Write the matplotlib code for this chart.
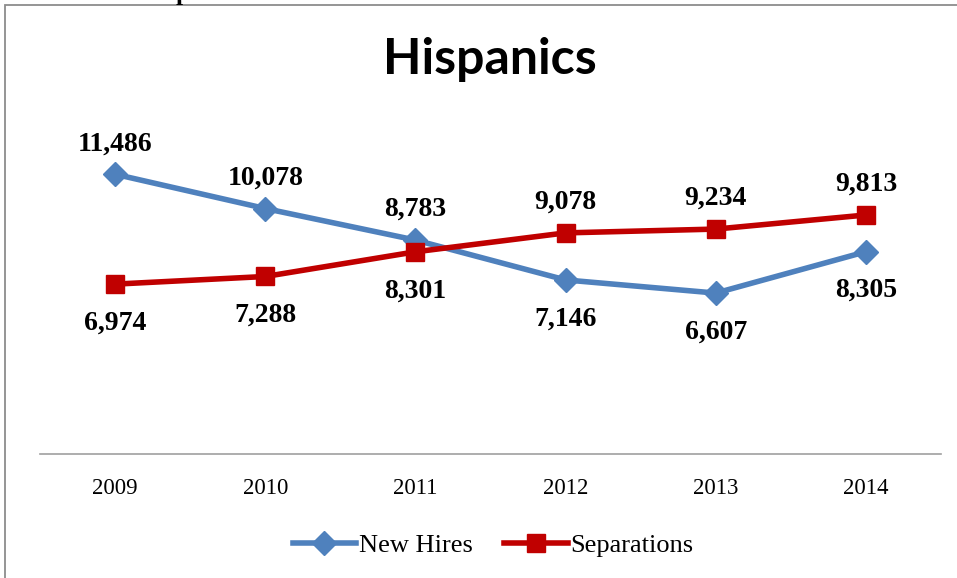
import matplotlib.pyplot as plt
from matplotlib.patches import Rectangle

# Data
years = ["2009", "2010", "2011", "2012", "2013", "2014"]
new_hires = [11486, 10078, 8783, 7146, 6607, 8305]
separations = [6974, 7288, 8301, 9078, 9234, 9813]

blue = "#4F81BD"
red = "#C00000"
serif = "Liberation Serif"

fig = plt.figure(figsize=(9.57, 5.78), dpi=100)
ax = fig.add_axes([40 / 957, 1 - 454 / 578, 901 / 957, 341 / 578])

x = list(range(len(years)))
ax.plot(x, new_hires, color=blue, lw=4, marker="D", markersize=12.5,
        label="New Hires")
ax.plot(x, separations, color=red, lw=4, marker="s", markersize=12.5,
        label="Separations")

# value labels: the higher series gets its label above the point
for i in x:
    hi_up = new_hires[i] >= separations[i]
    for vals, up in ((new_hires, hi_up), (separations, not hi_up)):
        ax.annotate(f"{vals[i]:,}", (i, vals[i]),
                    xytext=(0, 22 if up else -28), textcoords="offset points",
                    ha="center", va="center", fontsize=20,
                    fontweight="bold", family=serif)

ax.set_xlim(-0.5, 5.5)
ax.set_ylim(0, 14000)
ax.set_xticks(x)
ax.set_xticklabels(years, family=serif, fontsize=16.5)
ax.tick_params(axis="x", length=0, pad=17)
ax.set_yticks([])
for side in ("top", "right", "left"):
    ax.spines[side].set_visible(False)
ax.spines["bottom"].set_color("#A0A0A0")
ax.spines["bottom"].set_linewidth(1.2)

fig.text(490 / 957, 1 - 59 / 578, "Hispanics", ha="center", va="center",
         fontsize=36, fontweight="bold", family="Lato")

fig.legend(loc="center", bbox_to_anchor=(493 / 957, 1 - 545 / 578), ncol=2,
           frameon=False, prop={"family": serif, "size": 19},
           handlelength=2.4, handletextpad=0.1, columnspacing=1.2)

# chart frame and the edge of the heading above it
fig.patches.append(Rectangle((5 / 957, -0.1), 1.2, 1 - 5 / 578 + 0.1,
                             transform=fig.transFigure, fill=False,
                             edgecolor="#8C8C8C", lw=1.3))
fig.text(183 / 957, 1.0, "p", ha="center", va="baseline", fontsize=18,
         fontweight="bold", family=serif)

fig.savefig("out.png", dpi=100)
